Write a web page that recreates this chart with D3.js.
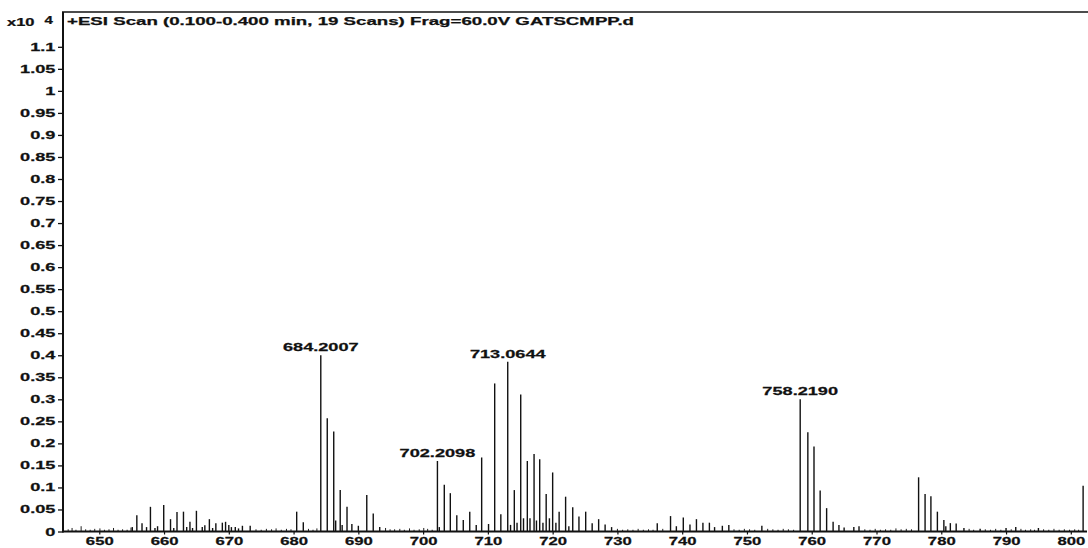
<!DOCTYPE html>
<html>
<head>
<meta charset="utf-8">
<script src="https://cdn.jsdelivr.net/npm/d3@7/dist/d3.min.js"></script>
<style>
  html, body { margin: 0; padding: 0; background: #fff; }
  svg { display: block; }
  text { font-family: "Liberation Sans", Arial, Helvetica, sans-serif; font-weight: bold; fill: #111;
         stroke: #111; stroke-width: 0.25px; }
</style>
</head>
<body>
<svg id="chart" width="1088" height="548"></svg>
<script>
// Spectrum: m/z positions and intensities (x10^4 counts)
const peakMz = [
  655.1, 655.8, 656.6, 657.3, 657.9, 658.6, 659.0, 659.95, 661.0, 661.5, 662.0, 663.0, 663.5, 664.0, 664.4,
  665.0, 665.9, 666.3, 667.0, 667.5, 668.0, 669.0, 669.5, 670.0, 670.4, 671.0, 671.5, 672.1, 673.3,
  680.48, 681.5, 684.2007, 685.2, 686.2, 686.5, 687.2, 687.5, 688.25, 689.0, 690.0, 691.3, 692.3, 693.3,
  702.2098, 702.5, 703.27, 704.2, 705.2, 706.2, 707.2, 708.2, 709.04, 710.1, 711.05, 712.0, 713.0644, 713.5,
  714.08, 714.5, 715.07, 715.5, 716.09, 716.5, 717.13, 717.5, 718.0, 718.5, 719.0, 719.5, 720.0, 720.5,
  721.0, 722.0, 722.5, 723.1, 724.06, 725.1, 726.1, 727.1, 728.1, 729.1,
  736.15, 738.2, 739.1, 740.17, 741.2, 742.2, 743.2, 744.2, 745.0, 746.2, 747.2, 752.3,
  758.2190, 759.4, 760.35, 761.3, 762.3, 763.3, 764.2, 765.0, 766.5, 767.3,
  776.5, 777.5, 778.4, 779.4, 780.4, 780.7, 781.4, 782.3, 783.5, 786.0, 790.0, 791.5, 795.0,
  801.9
];
const peakInt = [
  0.010, 0.037, 0.019, 0.010, 0.056, 0.008, 0.012, 0.060, 0.028, 0.008, 0.044, 0.045, 0.010, 0.022, 0.008,
  0.047, 0.010, 0.014, 0.028, 0.008, 0.019, 0.020, 0.022, 0.015, 0.010, 0.010, 0.007, 0.013, 0.013,
  0.045, 0.021, 0.400, 0.257, 0.227, 0.025, 0.094, 0.015, 0.056, 0.017, 0.013, 0.083, 0.041, 0.010,
  0.160, 0.010, 0.106, 0.087, 0.037, 0.026, 0.045, 0.015, 0.168, 0.017, 0.336, 0.039, 0.385, 0.015,
  0.094, 0.020, 0.311, 0.030, 0.160, 0.030, 0.176, 0.025, 0.164, 0.020, 0.085, 0.030, 0.134, 0.020,
  0.045, 0.079, 0.012, 0.055, 0.034, 0.045, 0.019, 0.028, 0.016, 0.010,
  0.019, 0.035, 0.012, 0.032, 0.016, 0.028, 0.020, 0.020, 0.010, 0.013, 0.015, 0.013,
  0.300, 0.225, 0.193, 0.093, 0.053, 0.022, 0.015, 0.009, 0.010, 0.012,
  0.123, 0.085, 0.080, 0.045, 0.026, 0.012, 0.019, 0.018, 0.008, 0.006, 0.008, 0.010, 0.008,
  0.104
];

// Low-level baseline signal
const noiseMz = [
  645.2, 645.8, 646.4, 647.2, 647.9, 648.6, 649.3, 650.1, 650.8, 651.5, 652.2, 652.9, 653.6, 654.3, 654.9,
  674.2, 675.0, 675.8, 676.6, 677.3, 678.1, 678.9, 679.6, 682.3, 683.0, 683.6,
  694.2, 694.9, 695.6, 696.4, 697.1, 697.9, 698.6, 699.4, 700.1, 700.7, 701.4,
  730.0, 730.8, 731.6, 732.4, 733.2, 734.0, 734.8, 735.5, 737.0, 748.0, 748.8, 749.6, 750.4, 751.2,
  753.2, 754.0, 754.8, 755.6, 756.4, 757.2,
  768.2, 769.0, 769.8, 770.6, 771.4, 772.2, 773.0, 773.8, 774.6, 775.4,
  784.3, 785.0, 786.8, 787.6, 788.4, 789.2, 790.8, 792.3, 793.0, 793.8, 794.4, 795.8, 796.6, 797.4, 798.2, 799.0, 799.8, 800.6, 801.2
];
const noiseInt = [
  0.005, 0.008, 0.004, 0.012, 0.005, 0.004, 0.006, 0.007, 0.004, 0.005, 0.008, 0.004, 0.005, 0.004, 0.009,
  0.005, 0.004, 0.006, 0.005, 0.007, 0.004, 0.006, 0.005, 0.006, 0.004, 0.007,
  0.008, 0.005, 0.005, 0.006, 0.004, 0.007, 0.004, 0.005, 0.008, 0.006, 0.004,
  0.006, 0.004, 0.005, 0.004, 0.006, 0.004, 0.005, 0.004, 0.006, 0.005, 0.004, 0.006, 0.005, 0.004,
  0.006, 0.005, 0.004, 0.006, 0.005, 0.004,
  0.005, 0.004, 0.006, 0.004, 0.005, 0.004, 0.007, 0.005, 0.006, 0.005,
  0.006, 0.004, 0.005, 0.004, 0.006, 0.004, 0.005, 0.006, 0.004, 0.005, 0.004, 0.005, 0.004, 0.006, 0.004, 0.005, 0.004, 0.005, 0.004
];

// Annotated peaks (m/z)
const labelMz = [684.2007, 702.2098, 713.0644, 758.2190];

const yTicks = [0, 0.05, 0.1, 0.15, 0.2, 0.25, 0.3, 0.35, 0.4, 0.45, 0.5, 0.55, 0.6, 0.65, 0.7, 0.75,
                0.8, 0.85, 0.9, 0.95, 1, 1.05, 1.1];
const xTicks = [650, 660, 670, 680, 690, 700, 710, 720, 730, 740, 750, 760, 770, 780, 790, 800];
const titleText = "+ESI Scan (0.100-0.400 min, 19 Scans) Frag=60.0V GATSCMPP.d";

const svg = d3.select("#chart");
const plotLeft = 63, plotRight = 1087, plotTop = 12, plotBottom = 531.5;
const SX = 1.65; // wide lettering

const x = d3.scaleLinear().domain([644.4, 802.5]).range([plotLeft, plotRight]);
const y = d3.scaleLinear().domain([0, 1.179]).range([plotBottom, plotTop]);

const fmt = v => String(Number(v.toFixed(2)));

// frame top line
svg.append("line")
  .attr("x1", plotLeft - 1).attr("x2", 1088)
  .attr("y1", plotTop).attr("y2", plotTop)
  .attr("stroke", "#111").attr("stroke-width", 1.6);

// noise
svg.append("g").selectAll("line")
  .data(noiseMz.map((m, i) => ({ m, v: noiseInt[i] })))
  .join("line")
  .attr("x1", d => x(d.m)).attr("x2", d => x(d.m))
  .attr("y1", y(0)).attr("y2", d => y(d.v))
  .attr("stroke", "#222").attr("stroke-width", 1);

// peaks
const peaks = peakMz.map((m, i) => ({ m, v: peakInt[i] }));
svg.append("g").selectAll("line")
  .data(peaks)
  .join("line")
  .attr("x1", d => x(d.m)).attr("x2", d => x(d.m))
  .attr("y1", y(0)).attr("y2", d => y(d.v))
  .attr("stroke", "#111").attr("stroke-width", 1.4);

// y axis
const gy = svg.append("g").attr("transform", `translate(${plotLeft},0)`)
  .call(d3.axisLeft(y).tickValues(yTicks).tickFormat(fmt).tickSize(5).tickSizeOuter(0));
gy.select(".domain").attr("stroke", "#111").attr("stroke-width", 2)
  .attr("d", `M0,${plotBottom + 1}V${plotTop}`);
gy.selectAll(".tick line").attr("stroke", "#111").attr("stroke-width", 1.3);
gy.selectAll(".tick text")
  .attr("x", -4.6)
  .attr("transform", `scale(${SX},1)`)
  .style("font-size", "11px").style("font-family", "Liberation Sans, Arial, sans-serif")
  .style("font-weight", "bold").attr("fill", "#111");

// x axis
const gx = svg.append("g").attr("transform", `translate(0,${plotBottom})`)
  .call(d3.axisBottom(x).tickValues(xTicks).tickFormat(d3.format("d")).tickSize(3).tickSizeOuter(0));
gx.select(".domain").attr("stroke", "#111").attr("stroke-width", 2.2)
  .attr("d", `M${plotLeft},0H${plotRight}`);
gx.selectAll(".tick line").attr("stroke", "#111").attr("stroke-width", 1.2);
gx.selectAll(".tick text")
  .attr("y", 5.3)
  .attr("transform", `scale(${SX * 0.92},1)`)
  .style("font-size", "11px").style("font-family", "Liberation Sans, Arial, sans-serif")
  .style("font-weight", "bold").attr("fill", "#111");

// peak annotations
const labelled = labelMz.map(m => peaks.find(p => p.m === m));
svg.append("g").selectAll("g")
  .data(labelled)
  .join("g")
  .attr("transform", d => `translate(${x(d.m)},${y(d.v) - 4}) scale(${SX},1)`)
  .append("text")
  .attr("text-anchor", "middle")
  .style("font-size", "11px")
  .text(d => d.m.toFixed(4));

// title
svg.append("text")
  .attr("x", 67).attr("y", 25)
  .attr("textLength", 567).attr("lengthAdjust", "spacingAndGlyphs")
  .style("font-size", "11px")
  .text(titleText);

// exponent
const ex = svg.append("g").attr("transform", "translate(7,26) scale(1.5,1)");
ex.append("text").style("font-size", "11px").text("x10");
ex.append("text").attr("x", 25).attr("y", -2).style("font-size", "10px").text("4");
</script>
</body>
</html>
